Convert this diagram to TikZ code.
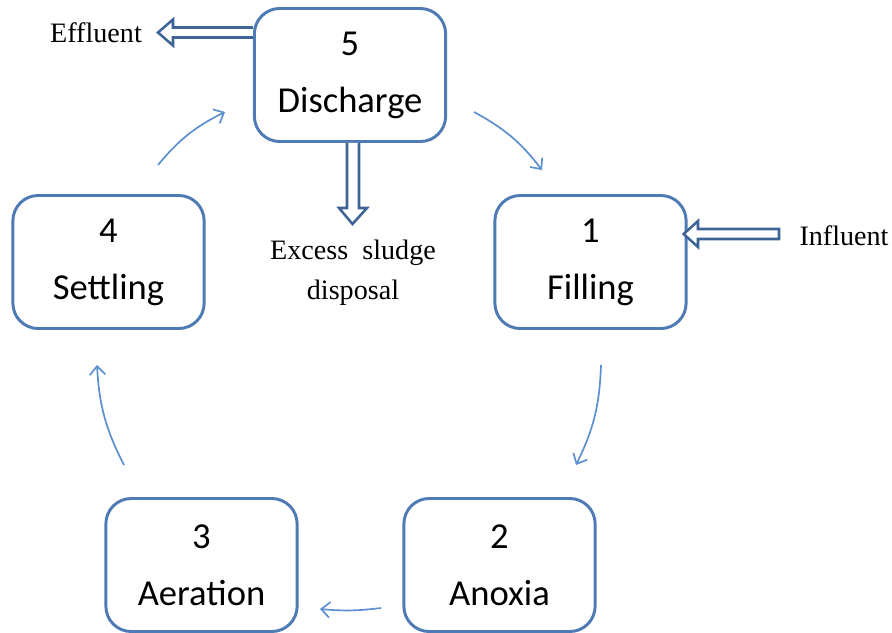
\documentclass[tikz,border=0pt]{standalone}
\usepackage{fontspec}
\setmainfont{Liberation Serif}
\newfontfamily\stagefont{Carlito}
\usetikzlibrary{arrows,arrows.meta,calc}
\definecolor{boxblue}{HTML}{4F7BB4}
\definecolor{flowblue}{HTML}{5B8FD0}
\definecolor{pipeblue}{HTML}{3E6497}
\tikzset{
  stage/.style={draw=boxblue, line width=2.1pt, rounded corners=18pt,
    minimum width=136pt, minimum height=94.6pt, inner sep=0pt, align=center,
    font=\stagefont\fontsize{26}{40.5}\selectfont},
  turn/.style={draw=flowblue, line width=1.2pt,
    -{Straight Barb[length=6pt,width=11pt]}, bend left=#1},
  turn/.default=12,
  pipe/.style={draw=pipeblue, line width=1.8pt, fill=white, line join=miter},
  sidetext/.style={font=\fontsize{20}{28.5}\selectfont, align=center, inner sep=0pt}
}

\begin{document}
\begin{tikzpicture}[x=0.025cm, y=-0.025cm]
\useasboundingbox (0,0) rectangle (892,632);

% the five stages
\node[stage] (discharge) at (350,75) {5\\Discharge};
\node[stage] (filling) at (590.5,262) {1\\Filling};
\node[stage] (anoxia) at (499.5,565) {2\\Anoxia};
\node[stage] (aeration) at (201.5,565) {3\\Aeration};
\node[stage] (settling) at (108.5,262) {4\\Settling};

% outside labels
\node[sidetext] (effluent) at (96,33) {Effluent};
\node[sidetext] (influent) at (844,236) {Influent};
\node[sidetext] (sludge) at (353,273) {Excess\hspace{5pt} sludge\\disposal};

% cycle
\coordinate (c51) at (474,112);
\coordinate (e51) at (542,170);
\coordinate (c12) at (601,365);
\coordinate (e12) at (576,465);
\coordinate (c23) at (381,608);
\coordinate (e23) at (320,609);
\coordinate (c34) at (124,465);
\coordinate (e34) at (97,365);
\coordinate (c45) at (158,165);
\coordinate (e45) at (225,112);
\draw[turn] (c51) to (e51);
\draw[turn] (c12) to (e12);
\draw[turn=6] (c23) to (e23);
\draw[turn] (c34) to (e34);
\draw[turn] (c45) to (e45);

% in and out
\coordinate (eff) at (discharge.west |- 0,27.5);
\draw[pipe] (eff) -- (173,27.5) -- (173,19.5) -- (158,32.5) -- (173,45.5)
  -- (173,37.5) -- (eff |- 0,37.5);
\coordinate (slu) at ($(discharge.south)+(-3,0)$);
\draw[pipe] (slu) -- (347,208) -- (339,208) -- (352.5,224) -- (367,208)
  -- (359,208) -- ($(slu)+(12,0)$);
\coordinate (inf) at ($(filling.east |- 0,234)+(-4,0)$);
\draw[pipe] (inf) -- (698,221) -- (698,229) -- (779,229) -- (779,239)
  -- (698,239) -- (698,247) -- cycle;
\end{tikzpicture}
\end{document}
